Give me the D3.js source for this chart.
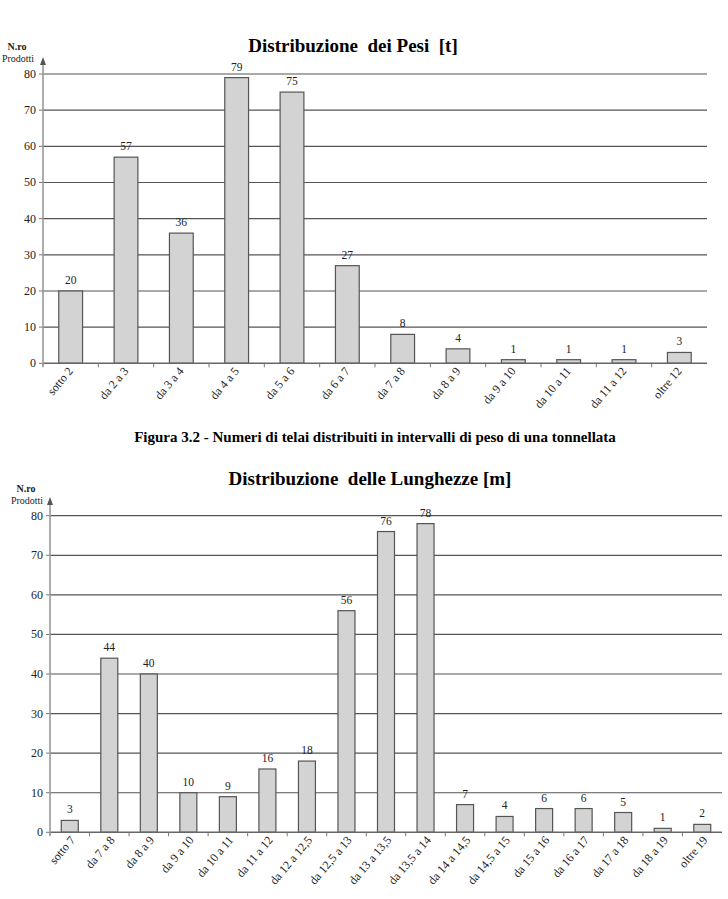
<!DOCTYPE html>
<html><head><meta charset="utf-8">
<script src="https://cdn.jsdelivr.net/npm/d3@7"></script>
<style>body{margin:0;background:#fff}svg{display:block}</style>
</head><body>
<svg id="c" width="728" height="899"></svg>
<script>
const pesiCategories = ["sotto 2","da 2 a 3","da 3 a 4","da 4 a 5","da 5 a 6","da 6 a 7","da 7 a 8","da 8 a 9","da 9 a 10","da 10 a 11","da 11 a 12","oltre 12"];
const pesiValues = [20,57,36,79,75,27,8,4,1,1,1,3];
const lungCategories = ["sotto 7","da 7 a 8","da 8 a 9","da 9 a 10","da 10 a 11","da 11 a 12","da 12 a 12,5","da 12,5 a 13","da 13 a 13,5","da 13,5 a 14","da 14 a 14,5","da 14,5 a 15","da 15 a 16","da 16 a 17","da 17 a 18","da 18 a 19","oltre 19"];
const lungValues = [3,44,40,10,9,16,18,56,76,78,7,4,6,6,5,1,2];
const yTicks = [0,10,20,30,40,50,60,70,80];

const svg = d3.select("#c");
const serif = "Liberation Serif, Times New Roman, serif";

function chart(o){
  const g = svg.append("g");
  const x = d3.scaleBand().domain(o.cats).range([o.x0,o.x1]).paddingInner(0).paddingOuter(0);
  const y = d3.scaleLinear().domain([0,80]).range([o.y0,o.y1]);
  g.selectAll("line.grid").data(yTicks.filter(t=>t>0)).join("line")
    .attr("x1",o.x0).attr("x2",o.x1).attr("y1",d=>y(d)).attr("y2",d=>y(d))
    .attr("stroke","#555").attr("stroke-width",1.2);
  g.selectAll("text.yt").data(yTicks).join("text")
    .attr("x",o.x0-7).attr("y",d=>y(d)+4).attr("text-anchor","end")
    .attr("font-family",serif).attr("font-size",12).attr("fill","#222").text(d=>d);
  g.selectAll("line.ytk").data(yTicks).join("line")
    .attr("x1",o.x0-4).attr("x2",o.x0).attr("y1",d=>y(d)).attr("y2",d=>y(d))
    .attr("stroke","#777");
  const bw = x.bandwidth()*0.43;
  g.selectAll("rect").data(o.vals).join("rect")
    .attr("x",(d,i)=>x(o.cats[i])+x.bandwidth()/2-bw/2)
    .attr("y",d=>y(d)).attr("width",bw).attr("height",d=>y(0)-y(d))
    .attr("fill","#d3d3d3").attr("stroke","#555").attr("stroke-width",1.2);
  g.selectAll("text.v").data(o.vals).join("text")
    .attr("x",(d,i)=>x(o.cats[i])+x.bandwidth()/2).attr("y",d=>y(d)-7)
    .attr("text-anchor","middle").attr("font-family",serif).attr("font-size",11.5).attr("fill","#222").text(d=>d);
  g.append("line").attr("x1",o.x0).attr("x2",o.x1).attr("y1",y(0)).attr("y2",y(0)).attr("stroke","#666").attr("stroke-width",1.5);
  g.selectAll("line.xt").data(o.cats).join("line")
    .attr("x1",d=>x(d)).attr("x2",d=>x(d)).attr("y1",y(0)).attr("y2",y(0)+4).attr("stroke","#777");
  g.selectAll("text.xl").data(o.cats).join("text")
    .attr("transform",d=>`translate(${x(d)+x.bandwidth()/2+o.lx},${y(0)+o.ly}) rotate(-50)`)
    .attr("text-anchor","end").attr("font-family",serif).attr("font-size",12).attr("fill","#222").text(d=>d);
  g.append("line").attr("x1",o.x0).attr("x2",o.x0).attr("y1",y(0)+3).attr("y2",o.tip+6)
    .attr("stroke","#999").attr("stroke-width",1.6);
  g.append("path").attr("d",`M${o.x0},${o.tip} L${o.x0-3},${o.tip+8} L${o.x0+3},${o.tip+8} Z`).attr("fill","#555");
  g.append("text").attr("x",o.nx).attr("y",o.ny).attr("text-anchor","middle").attr("font-family",serif)
    .attr("font-size",10).attr("font-weight","bold").attr("fill","#222").text("N.ro");
  g.append("text").attr("x",o.nx+1).attr("y",o.ny+12).attr("text-anchor","middle").attr("font-family",serif)
    .attr("font-size",10).attr("fill","#222").text("Prodotti");
  g.append("text").attr("x",o.tx).attr("y",o.ty).attr("text-anchor","middle").attr("font-family",serif)
    .attr("font-weight","bold").attr("font-size",19).attr("fill","#000").attr("xml:space","preserve").text(o.title);
}

chart({cats:pesiCategories, vals:pesiValues, x0:43, x1:707, y0:363.3, y1:74, tip:57,
  lx:3, ly:8, nx:17, ny:50, tx:353, ty:52, title:"Distribuzione  dei Pesi  [t]"});
chart({cats:lungCategories, vals:lungValues, x0:50, x1:722, y0:832.3, y1:515.7, tip:497,
  lx:6, ly:8, nx:26, ny:492, tx:370, ty:485, title:"Distribuzione  delle Lunghezze [m]"});

svg.append("text").attr("x",375).attr("y",442).attr("text-anchor","middle").attr("font-family",serif)
  .attr("font-weight","bold").attr("font-size",15).attr("fill","#000")
  .text("Figura 3.2 - Numeri di telai distribuiti in intervalli di peso di una tonnellata");
</script>
</body></html>
